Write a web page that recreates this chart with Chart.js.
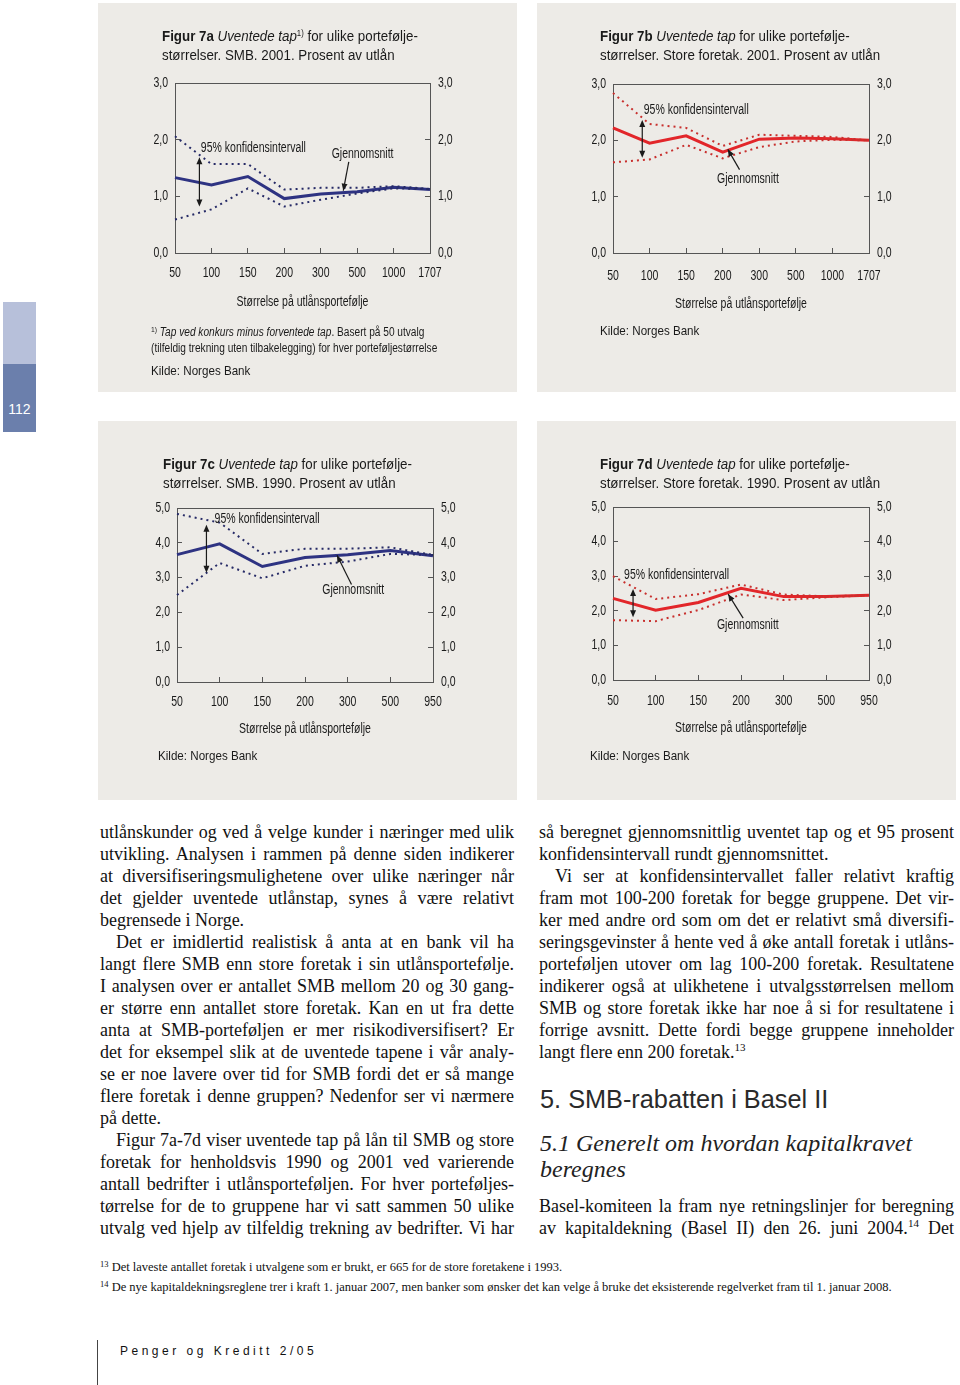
<!DOCTYPE html>
<html lang="no">
<head>
<meta charset="utf-8">
<title>Figur 7a-7d Uventede tap</title>
<script src="https://cdn.jsdelivr.net/npm/chart.js@4.4.1/dist/chart.umd.min.js"></script>
<style>
  html, body { margin: 0; padding: 0; background: #fff; }
  body { width: 960px; height: 1385px; position: relative; overflow: hidden;
         font-family: 'Liberation Serif', 'Times New Roman', serif; color: #111; }
  .panel { position: absolute; background: #edebe7; }
  .panel canvas { position: absolute; left: 0; top: 0; }
  /* no narrow sans installed: squeeze Liberation Sans instead */
  .narrow { font-family: 'Liberation Sans', Arial, sans-serif; transform: scaleX(0.86); transform-origin: 0 0; }
  .ptitle { position: absolute; font-size: 15.5px; line-height: 19px; color: #1a1a1a; white-space: nowrap; }
  .ptitle sup { font-size: 9px; vertical-align: 5px; line-height: 0; }
  .pnote { position: absolute; font-size: 12px; line-height: 16px; color: #1a1a1a; white-space: nowrap; transform: scaleX(0.845); }
  .pnote sup { font-size: 8px; vertical-align: 4px; line-height: 0; }
  .kilde { position: absolute; font-size: 13.5px; line-height: 16px; color: #1a1a1a; white-space: nowrap; }
  .col { position: absolute; font-size: 18px; line-height: 22px; }
  .j { text-align: justify; text-align-last: justify; }
  .ind { text-indent: 16px; }
  .col sup { font-size: 11px; vertical-align: 7px; line-height: 0; }
  .h2 { position: absolute; left: 540px; top: 1084px; font-family: 'Liberation Sans', sans-serif;
        font-size: 25.3px; line-height: 30px; color: #2a2a2a; white-space: nowrap; }
  .h3 { position: absolute; left: 540px; top: 1130px; font-style: italic; font-size: 24px; line-height: 26px; color: #222; }
  .fn { position: absolute; left: 100px; top: 1257px; font-size: 12.5px; line-height: 20px; white-space: nowrap; }
  .fn sup { font-size: 8.5px; vertical-align: 4px; line-height: 0; }
  .footer { position: absolute; left: 120px; top: 1343px; font-size: 12px; line-height: 16px; letter-spacing: 3.5px;
            font-family: 'Liberation Sans', sans-serif; color: #111; white-space: nowrap; }
</style>
</head>
<body>

<!-- side tab -->
<div style="position:absolute;left:3px;top:302px;width:33px;height:62px;background:#b7c0da"></div>
<div style="position:absolute;left:3px;top:364px;width:33px;height:68px;background:#6b7fac"></div>
<div style="position:absolute;left:3px;top:400px;width:33px;text-align:center;font-family:'Liberation Sans',sans-serif;font-size:14px;line-height:18px;color:#fff">112</div>

<!-- Figur 7a -->
<div class="panel" style="left:98px;top:3px;width:419px;height:389px">
  <canvas id="fig7a" width="419" height="389"></canvas>
  <div class="ptitle narrow" style="left:64px;top:23px"><b>Figur 7a</b> <i>Uventede tap</i><sup>1)</sup> for ulike portefølje-<br>størrelser. SMB. 2001. Prosent av utlån</div>
  <div class="pnote narrow" style="left:53px;top:321px"><sup>1)</sup> <i>Tap ved konkurs minus forventede tap</i>. Basert på 50 utvalg<br>(tilfeldig trekning uten tilbakelegging) for hver porteføljestørrelse</div>
  <div class="kilde narrow" style="left:53px;top:360px">Kilde: Norges Bank</div>
</div>

<!-- Figur 7b -->
<div class="panel" style="left:537px;top:3px;width:419px;height:389px">
  <canvas id="fig7b" width="419" height="389"></canvas>
  <div class="ptitle narrow" style="left:63px;top:23px"><b>Figur 7b</b> <i>Uventede tap</i> for ulike portefølje-<br>størrelser. Store foretak. 2001. Prosent av utlån</div>
  <div class="kilde narrow" style="left:63px;top:320px">Kilde: Norges Bank</div>
</div>

<!-- Figur 7c -->
<div class="panel" style="left:98px;top:421px;width:419px;height:379px">
  <canvas id="fig7c" width="419" height="379"></canvas>
  <div class="ptitle narrow" style="left:65px;top:33px"><b>Figur 7c</b> <i>Uventede tap</i> for ulike portefølje-<br>størrelser. SMB. 1990. Prosent av utlån</div>
  <div class="kilde narrow" style="left:60px;top:327px">Kilde: Norges Bank</div>
</div>

<!-- Figur 7d -->
<div class="panel" style="left:537px;top:421px;width:419px;height:379px">
  <canvas id="fig7d" width="419" height="379"></canvas>
  <div class="ptitle narrow" style="left:63px;top:33px"><b>Figur 7d</b> <i>Uventede tap</i> for ulike portefølje-<br>størrelser. Store foretak. 1990. Prosent av utlån</div>
  <div class="kilde narrow" style="left:53px;top:327px">Kilde: Norges Bank</div>
</div>

<!-- body text, left column -->
<div class="col" style="left:100px;top:821px;width:414px">
  <div class="j">utlånskunder og ved å velge kunder i næringer med ulik</div>
  <div class="j">utvikling. Analysen i rammen på denne siden indikerer</div>
  <div class="j">at diversifiseringsmulighetene over ulike næringer når</div>
  <div class="j">det gjelder uventede utlånstap, synes å være relativt</div>
  <div>begrensede i Norge.</div>
  <div class="j ind">Det er imidlertid realistisk å anta at en bank vil ha</div>
  <div class="j">langt flere SMB enn store foretak i sin utlånsportefølje.</div>
  <div class="j">I analysen over er antallet SMB mellom 20 og 30 gang-</div>
  <div class="j">er større enn antallet store foretak. Kan en ut fra dette</div>
  <div class="j">anta at SMB-porteføljen er mer risikodiversifisert? Er</div>
  <div class="j">det for eksempel slik at de uventede tapene i vår analy-</div>
  <div class="j">se er noe lavere over tid for SMB fordi det er så mange</div>
  <div class="j">flere foretak i denne gruppen? Nedenfor ser vi nærmere</div>
  <div>på dette.</div>
  <div class="j ind">Figur 7a-7d viser uventede tap på lån til SMB og store</div>
  <div class="j">foretak for henholdsvis 1990 og 2001 ved varierende</div>
  <div class="j">antall bedrifter i utlånsporteføljen. For hver porteføljes-</div>
  <div class="j">tørrelse for de to gruppene har vi satt sammen 50 ulike</div>
  <div class="j">utvalg ved hjelp av tilfeldig trekning av bedrifter. Vi har</div>
</div>

<!-- body text, right column -->
<div class="col" style="left:539px;top:821px;width:415px">
  <div class="j">så beregnet gjennomsnittlig uventet tap og et 95 prosent</div>
  <div>konfidensintervall rundt gjennomsnittet.</div>
  <div class="j ind">Vi ser at konfidensintervallet faller relativt kraftig</div>
  <div class="j">fram mot 100-200 foretak for begge gruppene. Det vir-</div>
  <div class="j">ker med andre ord som om det er relativt små diversifi-</div>
  <div class="j">seringsgevinster å hente ved å øke antall foretak i utlåns-</div>
  <div class="j">porteføljen utover om lag 100-200 foretak. Resultatene</div>
  <div class="j">indikerer også at ulikhetene i utvalgsstørrelsen mellom</div>
  <div class="j">SMB og store foretak ikke har noe å si for resultatene i</div>
  <div class="j">forrige avsnitt. Dette fordi begge gruppene inneholder</div>
  <div>langt flere enn 200 foretak.<sup>13</sup></div>
</div>
<div class="h2">5. SMB-rabatten i Basel II</div>
<div class="h3">5.1 Generelt om hvordan kapitalkravet<br>beregnes</div>
<div class="col" style="left:539px;top:1195px;width:415px">
  <div class="j">Basel-komiteen la fram nye retningslinjer for beregning</div>
  <div class="j">av kapitaldekning (Basel II) den 26. juni 2004.<sup>14</sup> Det</div>
</div>

<div class="fn">
  <sup>13</sup> Det laveste antallet foretak i utvalgene som er brukt, er 665 for de store foretakene i 1993.<br>
  <sup>14</sup> De nye kapitaldekningsreglene trer i kraft 1. januar 2007, men banker som ønsker det kan velge å bruke det eksisterende regelverket fram til 1. januar 2008.
</div>

<div style="position:absolute;left:97px;top:1340px;width:1px;height:45px;background:#444"></div>
<div class="footer">Penger og Kreditt 2/05</div>

<script>
// Portfolio sizes (x categories)
const sizes2001 = ['50', '100', '150', '200', '300', '500', '1000', '1707'];
const sizes1990 = ['50', '100', '150', '200', '300', '500', '950'];

// Figur 7a - SMB 2001
const smb2001Mean  = [1.33, 1.20, 1.35, 0.96, 1.04, 1.08, 1.16, 1.12];
const smb2001Upper = [2.06, 1.57, 1.57, 1.12, 1.15, 1.15, 1.18, 1.13];
const smb2001Lower = [0.59, 0.77, 1.14, 0.82, 0.94, 1.05, 1.14, 1.13];

// Figur 7b - Store foretak 2001
const store2001Mean  = [2.22, 1.95, 2.08, 1.79, 2.02, 2.04, 2.03, 2.00];
const store2001Upper = [2.84, 2.29, 2.22, 1.90, 2.10, 2.08, 2.06, 2.00];
const store2001Lower = [1.61, 1.66, 1.92, 1.68, 1.88, 1.98, 2.01, 2.00];

// Figur 7c - SMB 1990
const smb1990Mean  = [3.66, 3.97, 3.32, 3.58, 3.66, 3.78, 3.63];
const smb1990Upper = [4.83, 4.58, 3.68, 3.83, 3.83, 3.87, 3.65];
const smb1990Lower = [2.50, 3.42, 2.98, 3.34, 3.46, 3.68, 3.65];

// Figur 7d - Store foretak 1990
const store1990Mean  = [2.36, 2.02, 2.24, 2.65, 2.41, 2.41, 2.45];
const store1990Upper = [3.00, 2.34, 2.48, 2.76, 2.47, 2.42, 2.45];
const store1990Lower = [1.73, 1.70, 2.02, 2.47, 2.31, 2.39, 2.45];

// y axis ranges
const yMax2001 = 3;
const yMax1990 = 5;

const SANS = "'Liberation Sans', Arial, sans-serif";
const TICK_SIZE = 14;
const SQUEEZE = 0.75;   // fake a condensed face on the canvas
const NAVY = '#2e3382';
const RED = '#e2262a';

const fmt = v => v.toFixed(1).replace('.', ',');

// draw all canvas text squeezed sideways round its anchor point
function condense(canvas, k) {
    const ctx = canvas.getContext('2d');
    const orig = ctx.fillText.bind(ctx);
    ctx.fillText = function (t, x, y) {
        this.save();
        this.translate(x, y);
        this.scale(k, 1);
        orig(t, 0, 0);
        this.restore();
    };
}

// box round the plot area
const framePlugin = {
    id: 'frame',
    beforeDatasetsDraw(chart) {
        const { ctx, chartArea: a } = chart;
        ctx.save();
        ctx.strokeStyle = '#555';
        ctx.lineWidth = 1;
        ctx.strokeRect(Math.round(a.left) + 0.5, Math.round(a.top) + 0.5,
            Math.round(a.right - a.left), Math.round(a.bottom - a.top));
        ctx.restore();
    }
};

function arrowHead(ctx, fx, fy, tx, ty) {
    const ang = Math.atan2(ty - fy, tx - fx);
    const len = 7, half = 3;
    ctx.beginPath();
    ctx.moveTo(tx, ty);
    ctx.lineTo(tx - len * Math.cos(ang) + half * Math.sin(ang), ty - len * Math.sin(ang) - half * Math.cos(ang));
    ctx.lineTo(tx - len * Math.cos(ang) - half * Math.sin(ang), ty - len * Math.sin(ang) + half * Math.cos(ang));
    ctx.closePath();
    ctx.fill();
}

// labels and arrows, placed in data coordinates
const notesPlugin = {
    id: 'notes',
    afterDatasetsDraw(chart, args, opts) {
        const { ctx } = chart;
        const xs = chart.scales.x, ys = chart.scales.y;
        const px = v => xs.getPixelForValue(v);
        const py = v => ys.getPixelForValue(v);
        ctx.save();
        ctx.fillStyle = '#1a1a1a';
        ctx.strokeStyle = '#1a1a1a';
        ctx.lineWidth = 1.2;
        ctx.font = '14px ' + SANS;
        ctx.textBaseline = 'middle';

        ctx.textAlign = 'left';
        ctx.fillText('95% konfidensintervall', px(opts.ci.x), py(opts.ci.y));
        ctx.textAlign = 'center';
        ctx.fillText('Gjennomsnitt', px(opts.mean.x), py(opts.mean.y));

        // double arrow over the interval
        const ax = px(opts.ciArrow.x), ay1 = py(opts.ciArrow.y1), ay2 = py(opts.ciArrow.y2);
        ctx.beginPath();
        ctx.moveTo(ax, ay1 + 4);
        ctx.lineTo(ax, ay2 - 4);
        ctx.stroke();
        arrowHead(ctx, ax, ay2, ax, ay1);
        arrowHead(ctx, ax, ay1, ax, ay2);

        // pointer to the mean line
        const m = opts.meanArrow;
        const fx = px(m.x1), fy = py(m.y1), tx = px(m.x2), ty = py(m.y2);
        ctx.beginPath();
        ctx.moveTo(fx, fy);
        ctx.lineTo(tx, ty);
        ctx.stroke();
        arrowHead(ctx, fx, fy, tx, ty);
        ctx.restore();
    }
};

function buildChart(id, geo, labels, mean, upper, lower, yMax, lineColor, dotColor, notes) {
    const canvas = document.getElementById(id);
    condense(canvas, SQUEEZE);
    const lh = TICK_SIZE * 1.2;
    const tickFont = { family: SANS, size: TICK_SIZE };
    return new Chart(canvas, {
        type: 'line',
        data: {
            labels: labels,
            datasets: [
                { data: upper, borderColor: dotColor, borderWidth: 2, borderDash: [2, 4], pointRadius: 0, tension: 0 },
                { data: lower, borderColor: dotColor, borderWidth: 2, borderDash: [2, 4], pointRadius: 0, tension: 0 },
                { data: mean, borderColor: lineColor, borderWidth: 3, pointRadius: 0, tension: 0 }
            ]
        },
        options: {
            responsive: false,
            animation: false,
            layout: { padding: { top: geo.top, left: 0, right: 0, bottom: 0 } },
            plugins: {
                legend: { display: false },
                tooltip: { enabled: false },
                notes: notes
            },
            scales: {
                x: {
                    offset: false,
                    border: { display: false },
                    grid: { drawOnChartArea: false, tickLength: -5, color: '#555' },
                    ticks: {
                        color: '#1a1a1a',
                        font: tickFont,
                        padding: geo.xLab - lh / 2 + 5,
                        maxRotation: 0,
                        autoSkip: false
                    },
                    title: {
                        display: true,
                        text: 'Størrelse på utlånsportefølje',
                        color: '#1a1a1a',
                        font: tickFont,
                        padding: { top: 0, bottom: geo.h - geo.bottom - geo.xTitle - lh / 2 }
                    },
                    afterFit: s => { s.height = geo.h - geo.bottom; }
                },
                y: {
                    position: 'left',
                    min: 0, max: yMax,
                    border: { display: false },
                    grid: { drawOnChartArea: false, tickLength: -5, color: '#555' },
                    ticks: { stepSize: 1, padding: 12, color: '#1a1a1a', font: tickFont, callback: fmt },
                    afterFit: s => { s.width = geo.left; }
                },
                y2: {
                    position: 'right',
                    min: 0, max: yMax,
                    border: { display: false },
                    grid: { drawOnChartArea: false, tickLength: -5, color: '#555' },
                    ticks: { stepSize: 1, padding: 13, color: '#1a1a1a', font: tickFont, callback: fmt },
                    afterFit: s => { s.width = geo.w - geo.right; }
                }
            }
        },
        plugins: [framePlugin, notesPlugin]
    });
}

buildChart('fig7a',
    { w: 419, h: 389, left: 77, right: 332, top: 80, bottom: 250, xLab: 20.5, xTitle: 49 },
    sizes2001, smb2001Mean, smb2001Upper, smb2001Lower, yMax2001, NAVY, '#262a66',
    { ci: { x: 0.71, y: 1.85 }, ciArrow: { x: 0.67, y1: 1.69, y2: 0.82 },
      mean: { x: 5.15, y: 1.74 }, meanArrow: { x1: 4.77, y1: 1.61, x2: 4.62, y2: 1.10 } });

buildChart('fig7b',
    { w: 419, h: 389, left: 76, right: 332, top: 81, bottom: 250, xLab: 23, xTitle: 51 },
    sizes2001, store2001Mean, store2001Upper, store2001Lower, yMax2001, RED, '#c8302e',
    { ci: { x: 0.84, y: 2.54 }, ciArrow: { x: 0.80, y1: 2.36, y2: 1.69 },
      mean: { x: 3.69, y: 1.31 }, meanArrow: { x1: 3.46, y1: 1.48, x2: 3.14, y2: 1.84 } });

buildChart('fig7c',
    { w: 419, h: 379, left: 79, right: 335, top: 87, bottom: 261, xLab: 20, xTitle: 47 },
    sizes1990, smb1990Mean, smb1990Upper, smb1990Lower, yMax1990, NAVY, '#262a66',
    { ci: { x: 0.88, y: 4.68 }, ciArrow: { x: 0.69, y1: 4.52, y2: 3.14 },
      mean: { x: 4.13, y: 2.63 }, meanArrow: { x1: 4.09, y1: 2.80, x2: 3.75, y2: 3.64 } });

buildChart('fig7d',
    { w: 419, h: 379, left: 76, right: 332, top: 86, bottom: 259, xLab: 21.5, xTitle: 48.5 },
    sizes1990, store1990Mean, store1990Upper, store1990Lower, yMax1990, RED, '#c8302e',
    { ci: { x: 0.26, y: 3.04 }, ciArrow: { x: 0.47, y1: 2.63, y2: 1.81 },
      mean: { x: 3.16, y: 1.59 }, meanArrow: { x1: 3.05, y1: 1.79, x2: 2.70, y2: 2.48 } });
</script>
</body>
</html>
